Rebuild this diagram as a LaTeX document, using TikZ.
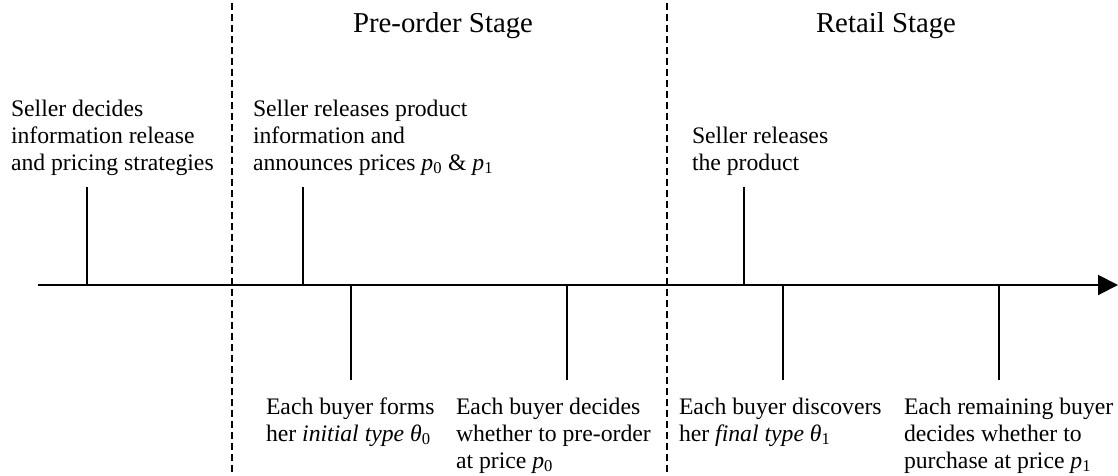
\documentclass[tikz,border=0pt]{standalone}
\usepackage{fontspec}
\setmainfont{Liberation Serif}
\usepackage{tikz}
\usetikzlibrary{arrows.meta,positioning}

\newcommand{\pr}[1]{\textit{p}\textsubscript{#1}}
\newcommand{\ty}[1]{\textit{θ}\textsubscript{#1}}

\begin{document}
\begin{tikzpicture}[x=1pt, y=-1pt, line width=2pt]
    \tikzset{
        event/.style={align=left, anchor=base west, inner sep=0pt, font=\fontsize{23.7}{27}\selectfont},
        stagelabel/.style={anchor=base, inner sep=0pt, font=\fontsize{28.8}{33}\selectfont},
        divider/.style={dash pattern=on 7pt off 4pt},
        timeline/.style={-{Triangle[length=20pt, width=20pt]}}
    }
    \useasboundingbox (0,0) rectangle (1118,475);

    % time axis
    \coordinate (start) at (38,285);
    \coordinate (end) at (1118,285);
    \draw[timeline] (start) -- (end);

    % stage boundaries
    \draw[divider] (232,3) -- (232,475);
    \draw[divider] (667,3) -- (667,475);

    \node[stagelabel] (preorderstage) at (443,32) {Pre-order Stage};
    \node[stagelabel] (retailstage) at (886,32) {Retail Stage};

    % event ticks
    \foreach \x/\y [count=\i] in {87/187, 303/187, 351/380, 567/380, 744/187, 783/380, 999/380} {
        \coordinate (tick\i) at (\x,285);
        \draw (tick\i) -- (\x,\y);
    }

    % seller events (anchored at the baseline of the last line)
    \node[event] (decide) at (10,170) {Seller decides\\information release\\and pricing strategies};
    \node[event] (announce) at (252,170) {Seller releases product\\information and\\announces prices \pr{0} \& \pr{1}};
    \node[event] (release) at (691,170) {Seller releases\\the product};

    % buyer events
    \node[event] (initial) at (265,441) {Each buyer forms\\her \textit{initial type} \ty{0}};
    \node[event] (preorder) at (455,468) {Each buyer decides\\whether to pre-order\\at price \pr{0}};
    \node[event] (final) at (678,441) {Each buyer discovers\\her \textit{final type} \ty{1}};
    \node[event] (purchase) at (903,468) {Each remaining buyer\\decides whether to\\purchase at price \pr{1}};
\end{tikzpicture}
\end{document}
